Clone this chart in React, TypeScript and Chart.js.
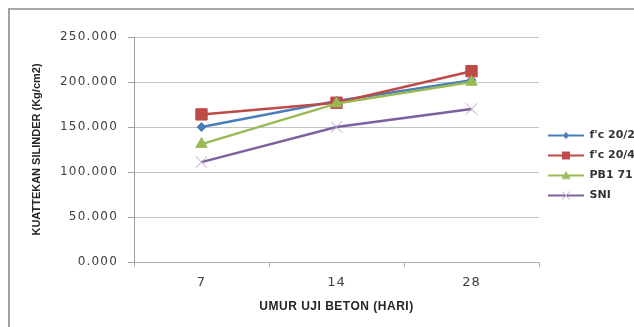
import React, { useEffect, useRef } from "react";
import { Chart, registerables } from "chart.js";

Chart.register(...registerables);

const categories = ["7", "14", "28"];
const seriesNames = ["f'c 20/20", "f'c 20/40", "PB1 71", "SNI"];
const fc2020 = [150, 179, 202];
const fc2040 = [164, 177, 212];
const pb171 = [131, 176, 200];
const sni = [111, 150, 170];
const yTicks = [0, 50, 100, 150, 200, 250];
const xTitle = "UMUR UJI BETON (HARI)";
const yTitle = "KUATTEKAN SILINDER (Kg/cm2)";

const colors = ["#4a7ebb", "#be4b48", "#98b954", "#7d60a0"];
const markerColors = ["#4a7ebb", "#be4b48", "#98b954", "#b3a2c7"];
const markers = ["rectRot", "rect", "triangle", "crossRot"];

function legendIcon(i: number): HTMLCanvasElement {
  const c = document.createElement("canvas");
  c.width = 36;
  c.height = 14;
  const g = c.getContext("2d")!;
  g.strokeStyle = colors[i];
  g.lineWidth = 2;
  g.beginPath();
  g.moveTo(0, 7);
  g.lineTo(36, 7);
  g.stroke();
  g.fillStyle = markerColors[i];
  g.strokeStyle = markerColors[i];
  const cx = 18, cy = 7;
  if (i === 0) {
    g.beginPath();
    g.moveTo(cx, cy - 3.5);
    g.lineTo(cx + 3.5, cy);
    g.lineTo(cx, cy + 3.5);
    g.lineTo(cx - 3.5, cy);
    g.closePath();
    g.fill();
  } else if (i === 1) {
    g.fillRect(cx - 4, cy - 4, 8, 8);
  } else if (i === 2) {
    g.beginPath();
    g.moveTo(cx, cy - 4.5);
    g.lineTo(cx + 4.5, cy + 3.5);
    g.lineTo(cx - 4.5, cy + 3.5);
    g.closePath();
    g.fill();
  } else {
    g.lineWidth = 1;
    g.beginPath();
    g.moveTo(cx - 4, cy - 4);
    g.lineTo(cx + 4, cy + 4);
    g.moveTo(cx + 4, cy - 4);
    g.lineTo(cx - 4, cy + 4);
    g.stroke();
  }
  return c;
}

const spacingPlugin = {
  id: "spacing",
  afterLayout(chart: any) {
    const wrap = (scale: any, fn: string, sp: string) => {
      if (!scale || scale["__w_" + fn]) return;
      const orig = scale[fn];
      scale[fn] = function (...args: any[]) {
        const ctx = chart.ctx as any;
        const prev = ctx.letterSpacing;
        ctx.letterSpacing = sp;
        orig.apply(this, args);
        ctx.letterSpacing = prev || "0px";
      };
      scale["__w_" + fn] = true;
    };
    wrap(chart.scales.y, "drawLabels", "1.2px");
    wrap(chart.scales.x, "drawLabels", "1px");
    wrap(chart.scales.x, "drawTitle", "0.5px");
  },
};

export default function App() {
  const ref = useRef<HTMLCanvasElement | null>(null);
  useEffect(() => {
    document.documentElement.style.overflow = "hidden";
    document.body.style.overflow = "hidden";
    const canvas = ref.current!;
    const data = [fc2020, fc2040, pb171, sni];
    const chart = new Chart(canvas, {
      type: "line",
      data: {
        labels: categories,
        datasets: data.map((d, i) => ({
          label: seriesNames[i],
          data: d,
          borderColor: colors[i],
          backgroundColor: markerColors[i],
          borderWidth: 2.5,
          pointStyle: markers[i] as any,
          pointRadius: [4.5, 8, 6.5, 8][i],
          pointBorderColor: markerColors[i],
          pointBackgroundColor: markerColors[i],
          pointBorderWidth: 1,
          tension: 0,
          order: 3 - i,
        })),
      },
      options: {
        responsive: false,
        animation: false,
        layout: { padding: { left: 0, right: 0, top: 0, bottom: 6 } },
        plugins: {
          tooltip: { enabled: false },
          title: {
            display: true,
            text: " ",
            fullSize: false,
            font: { size: 10 },
            padding: { top: 15, bottom: 0 },
          },
          legend: {
            position: "right",
            maxWidth: 100,
            labels: {
              usePointStyle: true,
              pointStyleWidth: 36,
              padding: 9,
              color: "#333333",
              font: { family: "DejaVu Sans", size: 11, weight: "bold" },
              generateLabels: (ch: any) =>
                ch.data.datasets.map((ds: any, i: number) => ({
                  text: ds.label,
                  pointStyle: legendIcon(i),
                  fillStyle: colors[i],
                  strokeStyle: colors[i],
                  lineWidth: 0,
                  fontColor: "#333333",
                  hidden: false,
                  datasetIndex: i,
                })),
            },
          },
        },
        scales: {
          x: {
            offset: true,
            afterFit: (s: any) => {
              s.height = 59;
            },
            grid: {
              drawOnChartArea: false,
              drawTicks: true,
              offset: true,
              tickLength: 5,
              tickColor: "#b0b0b0",
            },
            border: { color: "#b0b0b0", width: 1 },
            ticks: {
              padding: 8,
              color: "#404040",
              font: { family: "DejaVu Sans", size: 13 },
              maxRotation: 0,
            },
            title: {
              display: true,
              text: xTitle,
              color: "#262626",
              font: { family: "Liberation Sans", size: 12, weight: "bold" },
              padding: { top: 0, bottom: 6.8 },
            },
          },
          y: {
            min: 0,
            max: 250,
            afterFit: (s: any) => {
              s.width = 124;
            },
            afterBuildTicks: (s: any) => {
              s.ticks = yTicks.map((v) => ({ value: v }));
            },
            grid: {
              color: "#c4c4c4",
              lineWidth: 1,
              tickLength: 6,
              tickColor: "#a0a0a0",
            },
            border: { color: "#a0a0a0", width: 1 },
            ticks: {
              padding: 10,
              color: "#404040",
              font: { family: "DejaVu Sans", size: 12 },
              callback: (v: any) => Number(v).toFixed(3),
            },
            title: {
              display: true,
              text: yTitle,
              color: "#262626",
              font: { family: "Liberation Sans", size: 11, weight: "bold" },
              padding: { top: 20.4, bottom: 0 },
            },
          },
        },
      },
      plugins: [spacingPlugin],
    });
    return () => chart.destroy();
  }, []);
  return (
    <div
      style={{
        position: "fixed",
        left: 8,
        top: 8,
        width: 700,
        height: 400,
        overflow: "hidden",
        borderLeft: "2px solid #a0a0a0",
        borderTop: "2px solid #a8a8a8",
        boxSizing: "border-box",
        background: "#fff",
      }}
    >
      <canvas
        ref={ref}
        width={629}
        height={317}
        style={{ display: "block", width: 629, height: 317 }}
      />
    </div>
  );
}
